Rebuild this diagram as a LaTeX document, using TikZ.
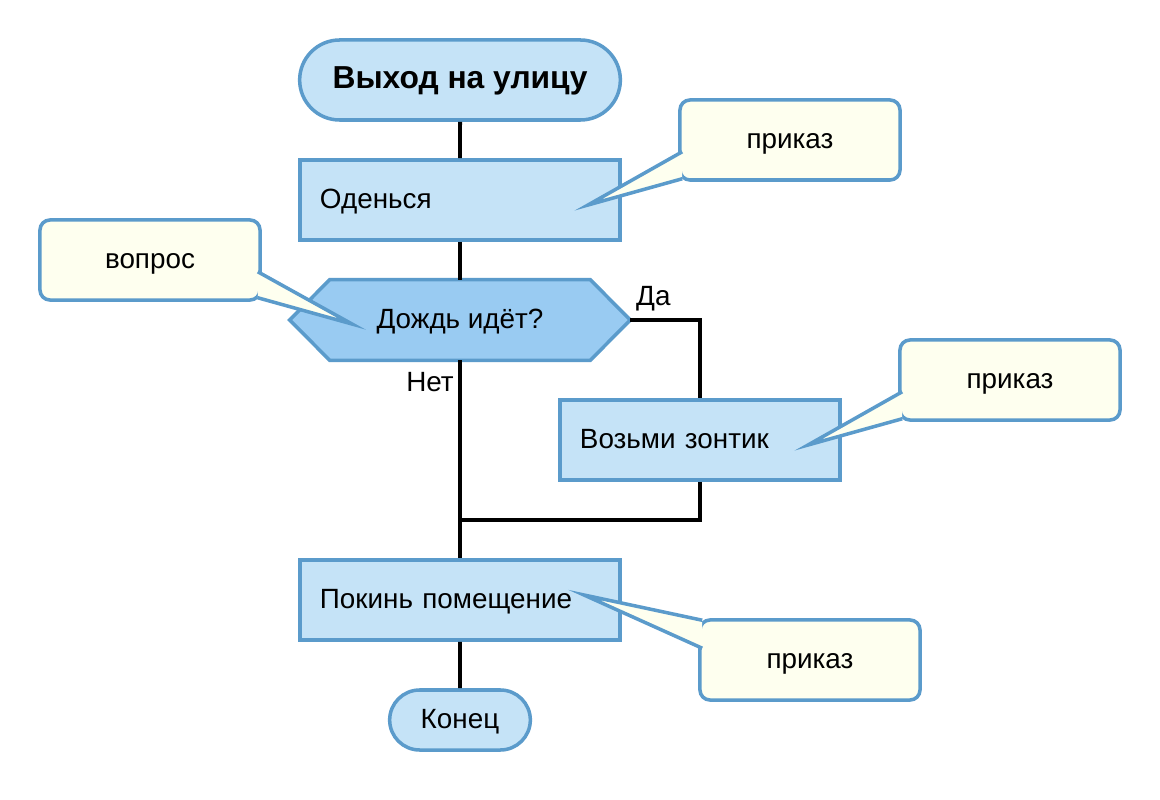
\documentclass[tikz,border=0pt]{standalone}
\usepackage{fontspec}
\setmainfont{Liberation Sans}
\usetikzlibrary{shapes.misc,calc}

\definecolor{lineblue}{HTML}{5B9BCB}
\definecolor{boxblue}{HTML}{C5E3F7}
\definecolor{hexblue}{HTML}{99CBF2}
\definecolor{notefill}{HTML}{FEFFEF}

\begin{document}
\begin{tikzpicture}[
  x=0.025cm, y=-0.025cm,
  every node/.style={font=\fontsize{19.8}{23}\selectfont, text height=1.2em, text depth=0pt},
  blk/.style={rectangle, draw=lineblue, fill=boxblue, line width=2.5pt,
    minimum height=2cm, inner xsep=0.5cm, align=left},
  term/.style={rounded rectangle, draw=lineblue, fill=boxblue, line width=2.5pt},
  note/.style={rectangle, rounded corners=0.25cm, draw=lineblue, fill=notefill,
    line width=2.5pt, minimum width=5.5cm, minimum height=2cm},
  tail/.style={draw=lineblue, fill=notefill, line width=2.5pt},
  wire/.style={draw=black, line width=2.8pt},
]

\useasboundingbox (0,0) rectangle (1160,800);

% flow
\node [term, minimum width=8.25cm, minimum height=2cm,
  font=\fontsize{22.6}{26}\selectfont\bfseries] (start) at (460,80) {Выход на улицу};
\node [blk, text width=7cm] (dress) at (460,200) {Оденься};
\node [minimum width=8.5cm, minimum height=2cm, inner sep=0pt] (rain) at (460,320) {};
\filldraw [draw=lineblue, fill=hexblue, line width=2.5pt]
  (rain.west) -- ([xshift=1cm]rain.north west) -- ([xshift=-1cm]rain.north east)
  -- (rain.east) -- ([xshift=-1cm]rain.south east) -- ([xshift=1cm]rain.south west)
  -- cycle;
\node at (rain.center) {Дождь идёт?};
\node [blk, text width=6cm] (umbr) at (700,440) {Возьми зонтик};
\node [blk, text width=7cm] (leave) at (460,600) {Покинь помещение};
\node [term, minimum width=3.75cm, minimum height=1.5cm] (stop) at (460,720) {Конец};
\coordinate (merge) at (460,520);
\node (yes) at ($(rain.east)+(23,-23)$) {Да};
\node (no) at ($(rain.south)+(-30,23)$) {Нет};

\draw [wire] (start) -- (dress);
\draw [wire] (dress) -- (rain.north);
\draw [wire] (rain.east) -| (umbr.north);
\draw [wire] (rain.south) -- (leave.north);
\draw [wire] (umbr.south) |- (merge);
\draw [wire] (leave) -- (stop);

% notes
\node [note] (n1) at (790,140) {приказ};
\node [note] (n2) at (150,260) {вопрос};
\node [note] (n3) at (1010,380) {приказ};
\node [note] (n4) at (810,660) {приказ};
\coordinate (t1) at (588,205);
\coordinate (t2) at (352,324);
\coordinate (t3) at (808,445);
\coordinate (t4) at (584,595);

\filldraw [tail] ($(n1.south west)+(4,-30)$) -- (t1) -- ($(n1.south west)+(4,-3)$);
\filldraw [tail] ($(n2.south east)+(-4,-30)$) -- (t2) -- ($(n2.south east)+(-4,-4)$);
\filldraw [tail] ($(n3.south west)+(4,-30)$) -- (t3) -- ($(n3.south west)+(4,-3)$);
\filldraw [tail] ($(n4.north west)+(4,2)$) -- (t4) -- ($(n4.north west)+(4,30)$);

\end{tikzpicture}
\end{document}
